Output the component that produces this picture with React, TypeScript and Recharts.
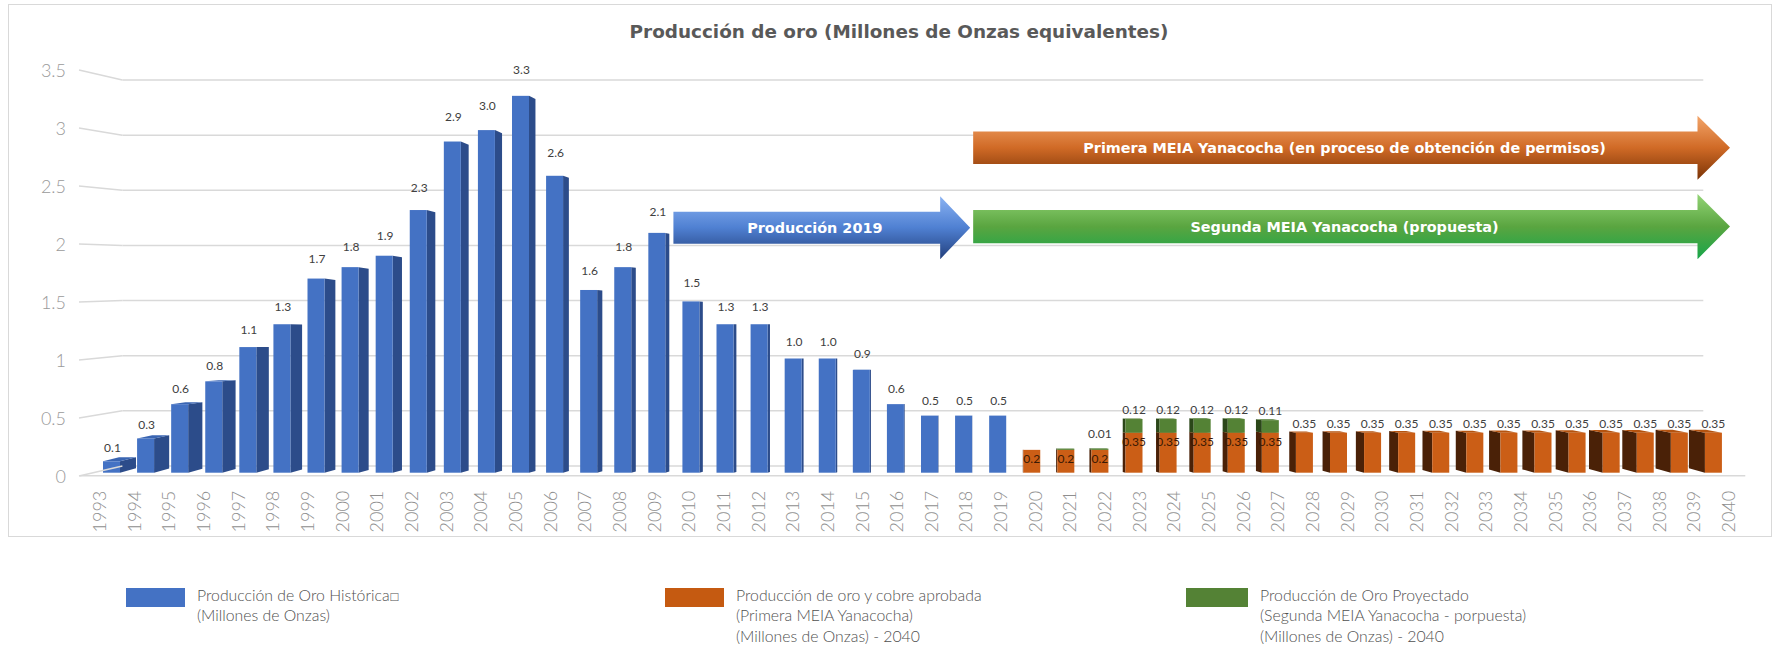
import React from 'react';
import {
  ComposedChart,
  Bar,
  XAxis,
  YAxis,
  CartesianGrid,
  ReferenceArea,
  ReferenceLine,
} from 'recharts';

// ---------------- DATA ----------------
const years: string[] = [
  '1993', '1994', '1995', '1996', '1997', '1998', '1999', '2000', '2001', '2002',
  '2003', '2004', '2005', '2006', '2007', '2008', '2009', '2010', '2011', '2012',
  '2013', '2014', '2015', '2016', '2017', '2018', '2019', '2020', '2021', '2022',
  '2023', '2024', '2025', '2026', '2027', '2028', '2029', '2030', '2031', '2032',
  '2033', '2034', '2035', '2036', '2037', '2038', '2039', '2040',
];

// Producción de Oro Histórica, 1993-2019
const historicalYears: string[] = years.slice(0, 27);
const historical: number[] = [
  0.1, 0.3, 0.6, 0.8, 1.1, 1.3, 1.7, 1.8, 1.9, 2.3, 2.9, 3.0, 3.3, 2.6, 1.6, 1.8,
  2.1, 1.5, 1.3, 1.3, 1.0, 1.0, 0.9, 0.6, 0.5, 0.5, 0.5,
];

// Primera MEIA (aprobada), 2020-2040
const projectedYears: string[] = years.slice(27);
const primera: number[] = [
  0.2, 0.2, 0.2, 0.35, 0.35, 0.35, 0.35, 0.35, 0.35, 0.35, 0.35, 0.35, 0.35, 0.35,
  0.35, 0.35, 0.35, 0.35, 0.35, 0.35, 0.35,
];
// label of primera drawn inside the bar up to this year, above it afterwards
const primeraInsideUntil = '2027';

// Segunda MEIA (propuesta), 2020-2040
const segunda: (number | null)[] = [
  null, 0.01, 0.01, 0.12, 0.12, 0.12, 0.12, 0.11, null, null, null, null, null, null,
  null, null, null, null, null, null, null,
];
const segundaLabels: (string | null)[] = [
  null, null, '0.01', '0.12', '0.12', '0.12', '0.12', '0.11', null, null, null, null,
  null, null, null, null, null, null, null, null, null,
];

const yTicks: number[] = [0, 0.5, 1, 1.5, 2, 2.5, 3, 3.5];
const yTickLabels: string[] = ['0', '0.5', '1', '1.5', '2', '2.5', '3', '3.5'];

const arrows = [
  { key: 'p2019', label: 'Producción 2019', from: '2010', to: '2018', top: 2.42, bottom: 1.87, kind: 'blue' },
  { key: 'prim', label: 'Primera MEIA Yanacocha (en proceso de obtención de permisos)', from: '2019', to: '2040', top: 3.125, bottom: 2.565, kind: 'orange' },
  { key: 'seg', label: 'Segunda MEIA Yanacocha (propuesta)', from: '2019', to: '2040', top: 2.44, bottom: 1.87, kind: 'green' },
];

const legendItems = [
  { color: '#4472C4', lines: ['Producción de Oro Histórica□', '(Millones de Onzas)'] },
  { color: '#C55A11', lines: ['Producción de oro y cobre aprobada', '(Primera MEIA Yanacocha)', '(Millones de Onzas) - 2040'] },
  { color: '#548235', lines: ['Producción de Oro Proyectado', '(Segunda MEIA Yanacocha - porpuesta)', '(Millones de Onzas) - 2040'] },
];

const title = 'Producción de oro (Millones de Onzas equivalentes)';

const data = years.map((year) => {
  const hi = historicalYears.indexOf(year);
  const pi = projectedYears.indexOf(year);
  return {
    year,
    hist: hi >= 0 ? historical[hi] : null,
    prim: pi >= 0 ? primera[pi] : null,
    seg: pi >= 0 ? segunda[pi] : null,
    segLabel: pi >= 0 ? segundaLabels[pi] : null,
  };
});

// ---------------- LAYOUT ----------------
const W = 1781;
const H = 647;
const PLOT_TOP = 73;
const PLOT_BOTTOM = 472.7;
const PLOT_LEFT = 81.7;
const PLOT_RIGHT = 1745.3;
const PX_PER_UNIT = (PLOT_BOTTOM - PLOT_TOP) / 3.5;
const VP = 1013; // perspective centre (x)
const EYE = 1.17; // eye level (value units)

const FONT = 'Lato, "DejaVu Sans", sans-serif';
const BOLD_FONT = '"DejaVu Sans", Lato, sans-serif';

function sideWidth(cx: number): number {
  if (cx < VP) return 16 * Math.pow((VP - cx) / 902, 1.5);
  return (16 * (cx - VP)) / 700;
}
function depthDy(s: number, yPix: number): number {
  const v = (PLOT_BOTTOM - yPix) / PX_PER_UNIT;
  return s * 0.234 * (v - EYE);
}

type Colors = { front: string; side: string; top: string };
const BLUE: Colors = { front: '#4472C4', side: '#2C4C8A', top: '#3A65B2' };
const ORANGE: Colors = { front: '#CB5E16', side: '#4A2107', top: '#B5530F' };
const GREEN: Colors = { front: '#548235', side: '#2B4719', top: '#4A772D' };

const labelStyle = { fontFamily: FONT, fontSize: 12, fill: '#404040' } as const;

function make3DShape(c: Colors, series: 'hist' | 'prim' | 'seg') {
  return (p: any) => {
    const x = Number(p.x);
    const y = Number(p.y);
    const w = Number(p.width);
    const h = Number(p.height);
    const row = p.payload || {};
    const raw = row[series];
    if (raw == null || !(h > 0)) return <g />;
    const cx = x + w / 2;
    const s = sideWidth(cx);
    const dT = depthDy(s, y);
    const dB = depthDy(s, y + h);
    const left = cx < VP;
    let sidePts: string;
    let topPts: string;
    if (left) {
      sidePts = `${x + w},${y} ${x + w + s},${y + dT} ${x + w + s},${y + h + dB} ${x + w},${y + h}`;
      topPts = `${x},${y} ${x + s},${y + dT} ${x + w + s},${y + dT} ${x + w},${y}`;
    } else {
      sidePts = `${x},${y} ${x - s},${y + dT} ${x - s},${y + h + dB} ${x},${y + h}`;
      topPts = `${x},${y} ${x + w},${y} ${x + w - s},${y + dT} ${x - s},${y + dT}`;
    }
    let label: React.ReactNode = null;
    const v = Number(raw);
    if (series === 'hist') {
      label = (
        <text x={cx + 1} y={y - (13 + 4 * v)} textAnchor="middle" dominantBaseline="central" {...labelStyle}>
          {v.toFixed(1)}
        </text>
      );
    } else if (series === 'prim') {
      const inside = row.year <= primeraInsideUntil;
      label = inside ? (
        <text x={cx} y={y + 9} textAnchor="middle" dominantBaseline="central" {...labelStyle} fill="#3a1a05">
          {String(v)}
        </text>
      ) : (
        <text x={cx} y={y - 9.5} textAnchor="middle" dominantBaseline="central" {...labelStyle}>
          {String(v)}
        </text>
      );
    } else if (series === 'seg' && row.segLabel) {
      label = (
        <text x={cx} y={y - (row.segLabel === '0.01' ? 15 : 9.5)} textAnchor="middle" dominantBaseline="central" {...labelStyle}>
          {row.segLabel}
        </text>
      );
    }
    return (
      <g>
        <polygon points={sidePts} fill={c.side} />
        {dT < 0 && <polygon points={topPts} fill={c.top} />}
        <rect x={x} y={y} width={w} height={h} fill={c.front} />
        {label}
      </g>
    );
  };
}

const arrowGradients: Record<string, [string, string, string]> = {
  blue: ['#8ab2f2', '#4f80d2', '#223f7c'],
  orange: ['#f3a56a', '#d06a26', '#7a3306'],
  green: ['#93d476', '#5aa540', '#17a64a'],
};

function makeArrowShape(a: { key: string; label: string; kind: string }) {
  return (p: any) => {
    const x = Number(p.x);
    const y = Number(p.y);
    const w = Number(p.width);
    const h = Number(p.height);
    const startInset = a.kind === 'blue' ? 0 : -7;
    const tipInset = a.kind === 'blue' ? 10 : 0;
    const xL = x + startInset;
    const xTip = x + w - tipInset;
    const head = a.kind === 'blue' ? 30 : 32.5;
    const xH = xTip - head;
    const mid = y + h / 2;
    const bh = h * 0.51;
    const bt = mid - bh / 2;
    const bb = mid + bh / 2;
    const pts = `${xL},${bt} ${xH},${bt} ${xH},${y} ${xTip},${mid} ${xH},${y + h} ${xH},${bb} ${xL},${bb}`;
    const g = arrowGradients[a.kind];
    const id = `grad-${a.key}`;
    return (
      <g>
        <defs>
          <linearGradient id={id} x1="0" y1="0" x2="0" y2="1">
            <stop offset="0" stopColor={g[0]} />
            <stop offset="0.5" stopColor={g[1]} />
            <stop offset="1" stopColor={g[2]} />
          </linearGradient>
        </defs>
        <polygon points={pts} fill={`url(#${id})`} />
        <text
          x={(xL + xTip) / 2 - 7}
          y={mid}
          textAnchor="middle"
          dominantBaseline="central"
          fontFamily={BOLD_FONT}
          fontWeight="bold"
          fontSize={14.4}
          fill="#ffffff"
        >
          {a.label}
        </text>
      </g>
    );
  };
}

const labelOffset = (v: number) => 10 - 5.7 * v;

const YTick = (p: any) => {
  const tx = Number(p.x);
  const ty = Number(p.y);
  const v = Number(p.payload?.value);
  const i = yTicks.indexOf(v);
  const off = labelOffset(v);
  return (
    <g>
      <line x1={tx - 2.7} y1={ty + off} x2={tx + 40.7} y2={ty} stroke="#d9d9d9" strokeWidth={1.5} />
      <text
        x={tx - 15.7}
        y={ty + off}
        textAnchor="end"
        dominantBaseline="central"
        fontFamily={FONT}
        fontWeight={300}
        fontSize={18}
        fill="#9a9a9a"
      >
        {i >= 0 ? yTickLabels[i] : String(v)}
      </text>
    </g>
  );
};

const XTick = (p: any) => {
  const tx = Number(p.x);
  const ty = Number(p.y);
  return (
    <text
      transform={`translate(${tx},${ty - 12}) rotate(-90)`}
      textAnchor="end"
      dominantBaseline="central"
      fontFamily={FONT}
      fontWeight={300}
      fontSize={18}
      fill="#8f8f8f"
    >
      {p.payload?.value}
    </text>
  );
};

const gridLine = (p: any) => {
  const x1 = Number(p.x1);
  const x2 = Number(p.x2);
  const y = Number(p.y1);
  return <line key={p.key} x1={x1 + 40.7} y1={y} x2={x2 - 42} y2={y} stroke="#d9d9d9" strokeWidth={1.5} />;
};

const floorLine = (p: any) => {
  const x1 = Number(p.x1);
  const x2 = Number(p.x2);
  const y = Number(p.y1) + 3;
  return <line x1={x1 - 2} y1={y} x2={x2} y2={y} stroke="#d9d9d9" strokeWidth={1.5} />;
};

// back-wall axis domain so that 0 -> 466px and 3.5 -> 80px
const BACK_BOTTOM = 466;
const BACK_TOP = 80;
const f0 = (PLOT_BOTTOM - BACK_BOTTOM) / (PLOT_BOTTOM - PLOT_TOP);
const f1 = (PLOT_BOTTOM - BACK_TOP) / (PLOT_BOTTOM - PLOT_TOP);
const backSpan = 3.5 / (f1 - f0);
const backDomain: [number, number] = [-f0 * backSpan, -f0 * backSpan + backSpan];

export default function App() {
  return (
    <div style={{ position: 'absolute', left: 0, top: 0, width: W, height: H, background: '#ffffff', overflow: 'hidden' }}>
      <div
        style={{
          position: 'absolute',
          left: 8,
          top: 4,
          width: 1764,
          height: 533,
          border: '1.5px solid #d9d9d9',
          boxSizing: 'border-box',
        }}
      />
      <div style={{ position: 'absolute', left: 0, top: 0 }}>
        <ComposedChart
          width={W}
          height={H}
          data={data}
          margin={{ top: PLOT_TOP, right: W - PLOT_RIGHT, bottom: H - PLOT_BOTTOM - 60, left: 0 }}
        >
          <XAxis
            xAxisId="lab"
            dataKey="year"
            height={60}
            interval={0}
            axisLine={false}
            tickLine={false}
            tickSize={0}
            tickMargin={0}
            tick={<XTick />}
          />
          <XAxis
            xAxisId="bars"
            dataKey="year"
            hide
            padding={{ left: 12.3, right: 15.3 }}
          />
          <YAxis
            yAxisId="back"
            type="number"
            width={PLOT_LEFT}
            domain={backDomain}
            allowDataOverflow
            ticks={yTicks}
            interval={0}
            axisLine={false}
            tickLine={false}
            tickSize={0}
            tickMargin={0}
            tick={<YTick />}
          />
          <YAxis yAxisId="front" type="number" hide domain={[0, 3.5]} />
          <CartesianGrid
            xAxisId="lab"
            yAxisId="back"
            vertical={false}
            syncWithTicks
            horizontal={gridLine}
          />
          <ReferenceLine xAxisId="lab" yAxisId="front" y={0} shape={floorLine} />
          {arrows.map((a) => (
            <ReferenceArea
              key={a.key}
              xAxisId="bars"
              yAxisId="front"
              x1={a.from}
              x2={a.to}
              y1={a.bottom}
              y2={a.top}
              shape={makeArrowShape(a)}
            />
          ))}
          <Bar
            xAxisId="bars"
            yAxisId="front"
            dataKey="hist"
            stackId="s"
            barSize={17}
            fill={BLUE.front}
            shape={make3DShape(BLUE, 'hist')}
            isAnimationActive={false}
          />
          <Bar
            xAxisId="bars"
            yAxisId="front"
            dataKey="prim"
            stackId="s"
            barSize={17}
            fill={ORANGE.front}
            shape={make3DShape(ORANGE, 'prim')}
            isAnimationActive={false}
          />
          <Bar
            xAxisId="bars"
            yAxisId="front"
            dataKey="seg"
            stackId="s"
            barSize={17}
            fill={GREEN.front}
            shape={make3DShape(GREEN, 'seg')}
            isAnimationActive={false}
          />
        </ComposedChart>
      </div>
      <div
        style={{
          position: 'absolute',
          left: 499,
          width: 800,
          top: 20,
          lineHeight: '24px',
          textAlign: 'center',
          fontFamily: BOLD_FONT,
          fontWeight: 'bold',
          fontSize: 18.4,
          color: '#595959',
          whiteSpace: 'nowrap',
        }}
      >
        {title}
      </div>
      {legendItems.map((item, i) => {
        const sx = [126, 665, 1186][i];
        const sw = [59, 59, 62][i];
        return (
          <div key={i}>
            <div
              style={{
                position: 'absolute',
                left: sx,
                top: 588,
                width: sw,
                height: 19,
                background: item.color,
              }}
            />
            <div
              style={{
                position: 'absolute',
                left: sx + sw + 12,
                top: 585,
                fontFamily: FONT,
                fontWeight: 300,
                fontSize: 15.8,
                color: '#505050',
                whiteSpace: 'nowrap',
              }}
            >
              {item.lines.map((l, j) => (
                <div key={j} style={{ height: j === 1 ? 21 : 19.5, lineHeight: '19px' }}>
                  {l}
                </div>
              ))}
            </div>
          </div>
        );
      })}
    </div>
  );
}
